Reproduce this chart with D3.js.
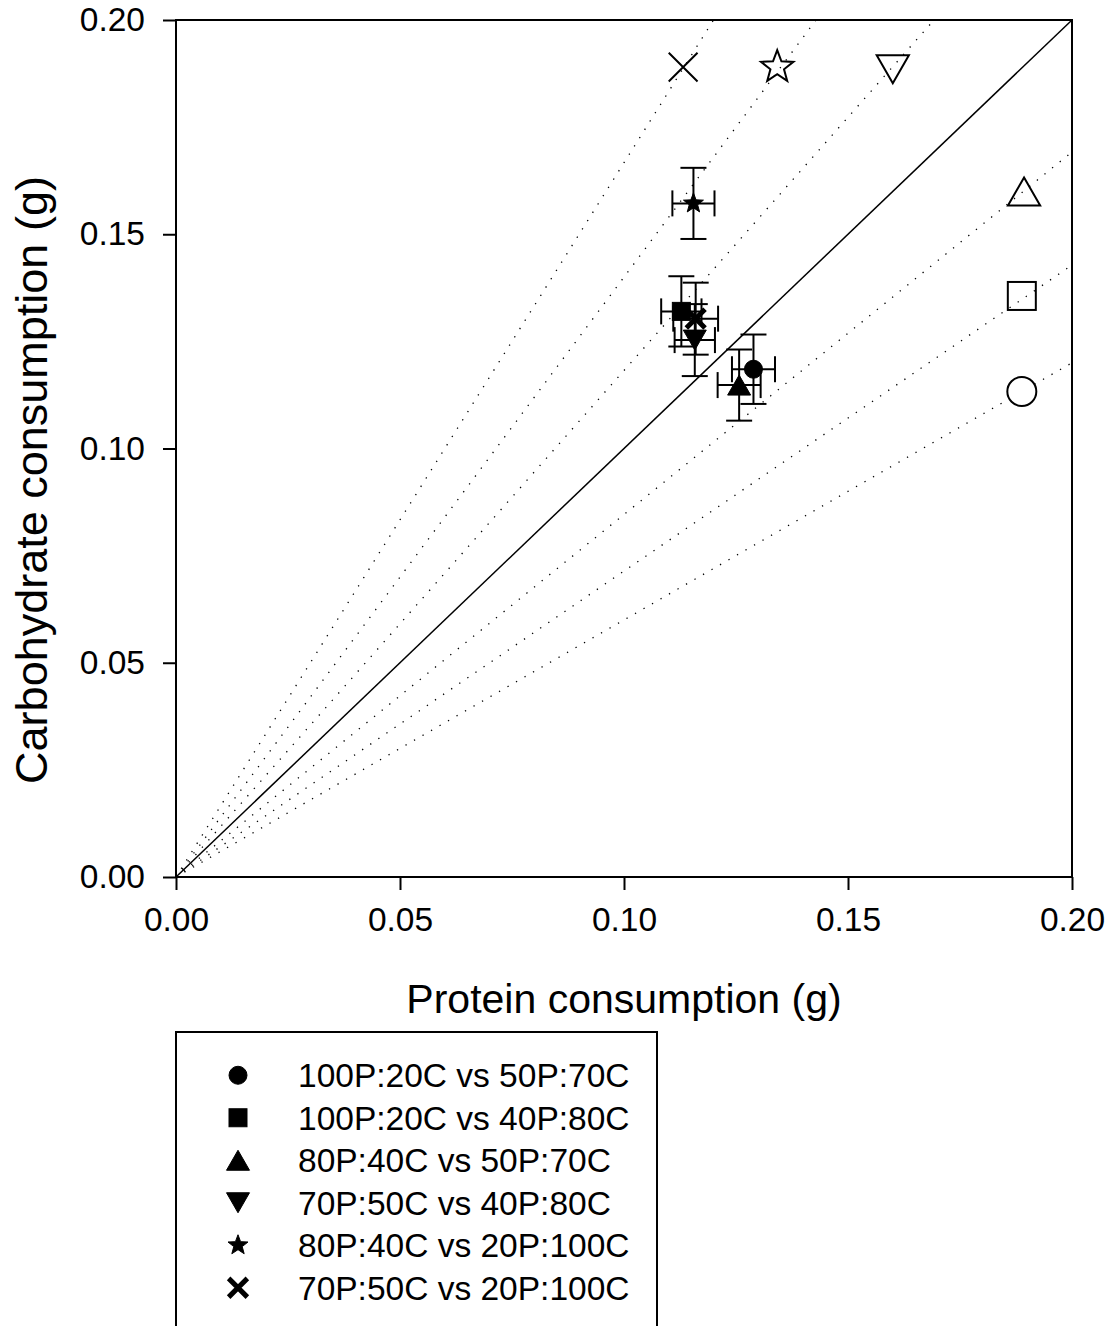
<!DOCTYPE html>
<html>
<head>
<meta charset="utf-8">
<title>Protein vs carbohydrate consumption</title>
<script src="https://d3js.org/d3.v7.min.js"></script>
<style>
  body { margin: 0; background: #fff; }
  svg { display: block; font-family: "Liberation Sans", Arial, sans-serif; }
</style>
</head>
<body>
<div id="chart"></div>
<script>
// legend labels (one per treatment pair)
const groups = ["100P:20C vs 50P:70C", "100P:20C vs 40P:80C", "80P:40C vs 50P:70C",
                "70P:50C vs 40P:80C", "80P:40C vs 20P:100C", "70P:50C vs 20P:100C"];
const shapes = ["circle", "square", "triUp", "triDown", "star", "cross"];

// observed intake (filled markers) with error bars
const proteinMean = [0.1289, 0.1128, 0.1257, 0.1158, 0.1155, 0.1160];
const carbMean    = [0.1185, 0.1320, 0.1148, 0.1253, 0.1572, 0.1303];
const proteinErr  = [0.0048, 0.0045, 0.0048, 0.0045, 0.0047, 0.0050];
const carbErr     = [0.0081, 0.0082, 0.0083, 0.0084, 0.0083, 0.0084];

// expected intake if random (open markers)
const proteinExp = [0.1888, 0.1888, 0.1893, 0.1600, 0.1342, 0.1132];
const carbExp    = [0.1133, 0.1356, 0.1600, 0.1885, 0.1890, 0.1890];

// C:P ratio rails (dotted lines through the origin)
const railSlopes = [0.600, 0.714, 0.846, 1.182, 1.400, 1.667];

const xTicks = [0, 0.05, 0.10, 0.15, 0.20];
const yTicks = [0, 0.05, 0.10, 0.15, 0.20];

const W = 1113, H = 1326;
const margin = { left: 176, top: 20, right: 41, bottom: 449 };
const pw = W - margin.left - margin.right, ph = H - margin.top - margin.bottom;

const x = d3.scaleLinear().domain([0, 0.2]).range([0, pw]);
const y = d3.scaleLinear().domain([0, 0.2]).range([ph, 0]);

const svg = d3.select("#chart").append("svg").attr("width", W).attr("height", H);
const g = svg.append("g").attr("transform", `translate(${margin.left},${margin.top})`);

g.append("clipPath").attr("id", "plotclip")
  .append("rect").attr("width", pw).attr("height", ph);

// dotted rails
const rails = g.append("g").attr("clip-path", "url(#plotclip)");
railSlopes.forEach(s => {
  const xe = Math.min(0.2, 0.2 / s);
  rails.append("line")
    .attr("x1", x(0)).attr("y1", y(0))
    .attr("x2", x(xe)).attr("y2", y(xe * s))
    .attr("stroke", "#000").attr("stroke-width", 1.3)
    .attr("stroke-dasharray", "1.3,8.5");
});
// 1:1 line
g.append("line").attr("x1", x(0)).attr("y1", y(0)).attr("x2", x(0.2)).attr("y2", y(0.2))
  .attr("stroke", "#000").attr("stroke-width", 1.5);

// frame + axes
g.append("rect").attr("width", pw).attr("height", ph)
  .attr("fill", "none").attr("stroke", "#000").attr("stroke-width", 2);

const yAxis = g.append("g")
  .call(d3.axisLeft(y).tickValues(yTicks).tickFormat(d3.format(".2f")).tickSize(13).tickPadding(18));
const xAxis = g.append("g").attr("transform", `translate(0,${ph})`)
  .call(d3.axisBottom(x).tickValues(xTicks).tickFormat(d3.format(".2f")).tickSize(13).tickPadding(17));
[xAxis, yAxis].forEach(a => {
  a.select(".domain").remove();
  a.selectAll(".tick line").attr("stroke-width", 2);
  a.selectAll("text").attr("font-size", 33.5).attr("font-family", "Liberation Sans, Arial, sans-serif").attr("fill", "#000");
});

svg.append("text").attr("x", margin.left + pw / 2).attr("y", 1013)
  .attr("text-anchor", "middle").attr("font-size", 41).text("Protein consumption (g)");
svg.append("text").attr("transform", "translate(47,480) rotate(-90)")
  .attr("text-anchor", "middle").attr("font-size", 45).text("Carbohydrate consumption (g)");

// marker drawing
function marker(sel, shape, r, filled) {
  const fill = filled ? "#000" : "none";
  const sw = filled ? 1 : 2;
  if (shape === "circle") {
    sel.append("circle").attr("r", r).attr("fill", filled ? "#000" : "#fff").attr("stroke", "#000").attr("stroke-width", sw);
  } else if (shape === "square") {
    sel.append("rect").attr("x", -r).attr("y", -r).attr("width", 2 * r).attr("height", 2 * r)
      .attr("fill", filled ? "#000" : "none").attr("stroke", "#000").attr("stroke-width", sw);
  } else if (shape === "triUp" || shape === "triDown") {
    const w = r * 1.15, h = r;
    const sgn = shape === "triUp" ? 1 : -1;
    const pts = [[0, -sgn * h], [w, sgn * h], [-w, sgn * h]];
    sel.append("path").attr("d", d3.line()(pts) + "Z")
      .attr("fill", fill).attr("stroke", "#000").attr("stroke-width", sw).attr("stroke-linejoin", "miter");
  } else if (shape === "star") {
    const pts = d3.range(10).map(i => {
      const a = -Math.PI / 2 + i * Math.PI / 5;
      const rr = i % 2 ? r * 0.42 : r;
      return [rr * Math.cos(a), rr * Math.sin(a)];
    });
    sel.append("path").attr("d", d3.line()(pts) + "Z")
      .attr("fill", fill).attr("stroke", "#000").attr("stroke-width", sw);
  } else if (shape === "cross") {
    const k = r * 0.72;
    sel.append("path").attr("d", `M${-k},${-k}L${k},${k}M${-k},${k}L${k},${-k}`)
      .attr("stroke", "#000").attr("stroke-width", filled ? 5 : 2).attr("fill", "none");
  }
}

const sizesOpen = { circle: 14.5, square: 14, triUp: 14, triDown: 14, star: 17, cross: 20 };
const sizesFilled = { circle: 9, square: 9, triUp: 10, triDown: 10, star: 10.5, cross: 13 };

// expected (open) markers
groups.forEach((name, i) => {
  const m = g.append("g").attr("transform", `translate(${x(proteinExp[i])},${y(carbExp[i])})`);
  marker(m, shapes[i], sizesOpen[shapes[i]], false);
});

// observed markers with error bars
const cap = 13;
groups.forEach((name, i) => {
  const cx = x(proteinMean[i]), cy = y(carbMean[i]);
  const e = g.append("g").attr("stroke", "#000").attr("stroke-width", 2);
  const x0 = x(proteinMean[i] - proteinErr[i]), x1 = x(proteinMean[i] + proteinErr[i]);
  const y0 = y(carbMean[i] - carbErr[i]), y1 = y(carbMean[i] + carbErr[i]);
  e.append("line").attr("x1", x0).attr("x2", x1).attr("y1", cy).attr("y2", cy);
  e.append("line").attr("x1", cx).attr("x2", cx).attr("y1", y0).attr("y2", y1);
  e.append("line").attr("x1", x0).attr("x2", x0).attr("y1", cy - cap).attr("y2", cy + cap);
  e.append("line").attr("x1", x1).attr("x2", x1).attr("y1", cy - cap).attr("y2", cy + cap);
  e.append("line").attr("x1", cx - cap).attr("x2", cx + cap).attr("y1", y0).attr("y2", y0);
  e.append("line").attr("x1", cx - cap).attr("x2", cx + cap).attr("y1", y1).attr("y2", y1);
  const m = g.append("g").attr("transform", `translate(${cx},${cy})`);
  marker(m, shapes[i], sizesFilled[shapes[i]], true);
});

// legend
const leg = svg.append("g");
leg.append("rect").attr("x", 176).attr("y", 1032).attr("width", 481).attr("height", 320)
  .attr("fill", "none").attr("stroke", "#000").attr("stroke-width", 2);
const rowY = d3.scaleBand().domain(groups).range([1054, 1309]);
groups.forEach((name, i) => {
  const cy = rowY(name) + rowY.bandwidth() / 2;
  const m = leg.append("g").attr("transform", `translate(238,${cy})`);
  marker(m, shapes[i], sizesFilled[shapes[i]], true);
  leg.append("text").attr("x", 298).attr("y", cy).attr("dy", "0.36em")
    .attr("font-size", 33.5).text(name);
});
</script>
</body>
</html>
